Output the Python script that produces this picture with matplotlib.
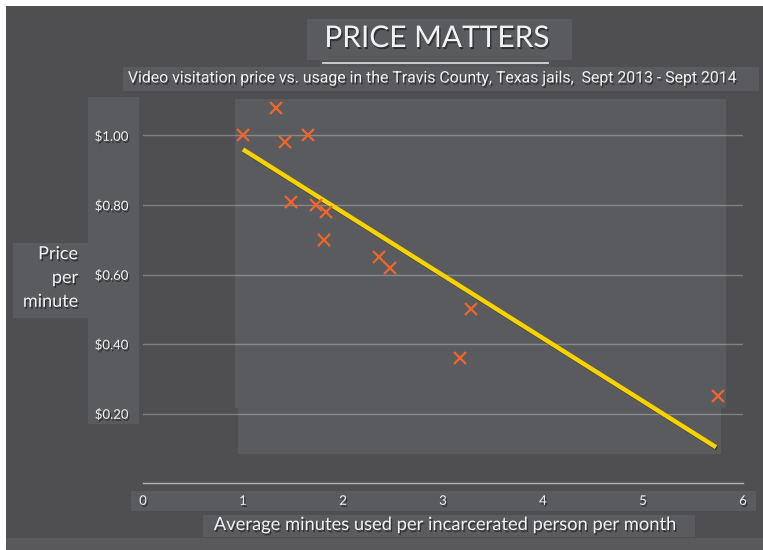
import matplotlib as mpl
mpl.use('Agg')
import numpy as np
import matplotlib.pyplot as plt
import matplotlib.patheffects as pe
from matplotlib.patches import Rectangle

# minutes per person per month vs price per minute
minutes = [1.00, 1.33, 1.42, 1.65, 1.48, 1.73, 1.83, 1.81, 2.36, 2.47, 3.28, 3.17, 5.75]
price = [1.00, 1.08, 0.98, 1.00, 0.81, 0.80, 0.78, 0.70, 0.65, 0.62, 0.50, 0.36, 0.25]

yticks = [0.2, 0.4, 0.6, 0.8, 1.0]
ylabels = ['$0.20', '$0.40', '$0.60', '$0.80', '$1.00']
xticks = [0, 1, 2, 3, 4, 5, 6]

title = 'PRICE MATTERS'
subtitle = 'Video visitation price vs. usage in the Travis County, Texas jails,  Sept 2013 - Sept 2014'
xlab = 'Average minutes used per incarcerated person per month'
ylab = 'Price\nper\nminute'

W = 763.0
H = 550.0
bg = '#4f4f51'
panel = '#5a5b5e'
txtc = '#f2f2f2'

fig = plt.figure(figsize=(W/100, H/100), dpi=100, facecolor='white')

def box(x0, y0, x1, y1, color=panel, z=-10):
	# pixel box (top-left origin) -> figure patch
	r = Rectangle((x0/W, 1-y1/H), (x1-x0)/W, (y1-y0)/H, transform=fig.transFigure,
		facecolor=color, edgecolor='none', zorder=z)
	fig.patches.append(r)

def fx(x): return x/W
def fy(y): return 1-y/H

shadow = [pe.SimplePatchShadow(offset=(1, -1.5), shadow_rgbFace='black', alpha=0.45), pe.Normal()]

box(6, 6, 763, 550, bg, -20)
box(6, 538, 763, 550, '#59595b')
box(307, 19, 572, 60)
box(320, 60, 551, 67, '#555558')
box(123, 67, 759, 91)
box(88, 97, 139, 424)
box(13, 243, 88, 318)
box(235, 99, 726, 408)
box(238, 408, 721, 454)
box(131, 491, 756, 511)
box(203, 515, 695, 537)

fig.add_artist(plt.Line2D([fx(323), fx(548)], [fy(62.5), fy(62.5)], transform=fig.transFigure,
	color='#d5d5d5', lw=1.3))

fig.text(fx(437), fy(38), title, ha='center', va='center', color=txtc, size=21.5,
	family=['Lato', 'DejaVu Sans'], path_effects=shadow)
fig.text(fx(434), fy(78), subtitle, ha='center', va='center', color=txtc, size=11.4,
	family=['Roboto', 'DejaVu Sans'], path_effects=shadow)
fig.text(fx(446), fy(525), xlab, ha='center', va='center', color=txtc, size=13.2,
	family=['Lato', 'DejaVu Sans'], path_effects=shadow)
fig.text(fx(78), fy(278), ylab, ha='right', va='center', color=txtc, size=13,
	family=['Lato', 'DejaVu Sans'], linespacing=1.6, path_effects=shadow)

# axes: x 0..6 -> px 143..743, y 0..1.1 -> px 483..100.75
ax = fig.add_axes([fx(143), fy(483), 600/W, 1.1*347.5/H], zorder=1)
ax.patch.set_alpha(0)
ax.set_xlim(0, 6)
ax.set_ylim(0, 1.1)
for s in ['top', 'right', 'left']:
	ax.spines[s].set_visible(False)
ax.spines['bottom'].set_color('#b4b4b4')
ax.spines['bottom'].set_linewidth(1.0)

ax.set_yticks(yticks)
ax.set_yticklabels(ylabels)
ax.set_xticks(xticks)
ax.tick_params(length=0, colors=txtc, labelsize=9.5)
ax.tick_params(axis='y', pad=10.5)
ax.tick_params(axis='x', pad=8.5)
for t in ax.get_xticklabels() + ax.get_yticklabels():
	t.set_family(['Lato', 'DejaVu Sans'])
	t.set_path_effects(shadow)
ax.yaxis.grid(True, color='white', alpha=0.28, lw=1.0)
ax.set_axisbelow(True)

# linear trend
k, b = np.polyfit(minutes, price, 1)
xl = np.array([min(minutes), max(minutes) - 0.02])
ax.plot(xl, k*xl + b, color='#f7d300', lw=3.2, solid_capstyle='butt', zorder=3,
	path_effects=[pe.SimpleLineShadow(offset=(0.6, -0.8), shadow_color='black', alpha=0.4), pe.Normal()])

ax.plot(minutes, price, 'x', color='#f0652a', ms=8.5, mew=1.6, zorder=4)

plt.savefig('out.png', dpi=100, facecolor='white')
